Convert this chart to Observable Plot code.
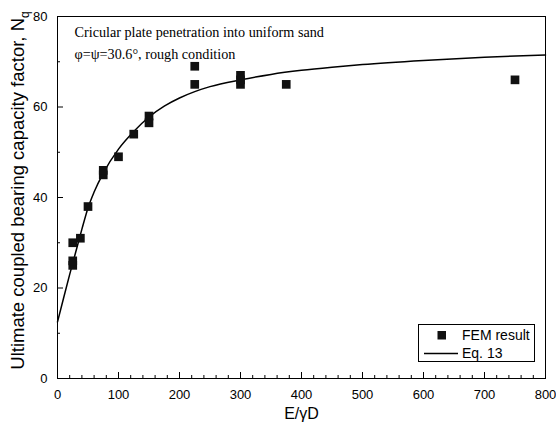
<!DOCTYPE html>
<html><head><meta charset="utf-8">
<script src="https://cdn.jsdelivr.net/npm/d3@7"></script>
<script src="https://cdn.jsdelivr.net/npm/@observablehq/plot@0.6"></script>
<style>
body{margin:0;background:#fff;}
#wrap{position:relative;width:556px;height:429px;font-family:"Liberation Sans",Arial,sans-serif;color:#000;}
#legend{position:absolute;left:418px;top:324px;width:115px;height:36px;border:1px solid #000;background:#fff;font-size:14px;}
#legend .row{position:absolute;left:0;width:115px;height:18px;}
#legend svg{position:absolute;left:0;top:0;}
#legend span{position:absolute;left:43px;top:0;line-height:18px;white-space:nowrap;}
</style></head><body><div id="wrap"></div>
<script>
// FEM result points
const femX = [25, 25, 25, 37.5, 50, 75, 75, 100, 125, 150, 150, 225, 225, 300, 300, 300, 375, 750];
const femY = [25, 26, 30, 31, 38, 45, 46, 49, 54, 56.5, 58, 65, 69, 65, 66, 67, 65, 66];
// Eq. 13 curve
const eqX = [0, 10, 20, 30, 40, 50, 60, 75, 100, 125, 150, 175, 200, 225, 250, 300, 350, 400, 450, 500, 600, 700, 800];
const eqY = [12.5, 17.8, 23, 28, 33, 37.7, 41.2, 45.4, 50.7, 54.6, 57.8, 60.2, 62, 63.4, 64.5, 66, 67.2, 68.1, 68.8, 69.4, 70.3, 71, 71.5];
// ticks
const xMajor = [0, 100, 200, 300, 400, 500, 600, 700, 800];
const xMinor = d3.range(0, 801, 20).filter(v => v % 100 !== 0);
const yMajor = [0, 20, 40, 60, 80];
const yMinor = [10, 30, 50, 70];
// texts
const xLabel = "E/γD";
const yLabel = "Ultimate coupled bearing capacity factor, N";
const ySub = "q";
const note1 = "Cricular plate penetration into uniform sand";
const note2 = "φ=ψ=30.6°, rough condition";
const legendLabels = ["FEM result", "Eq. 13"];

const fem = femX.map((x, i) => ({x, y: femY[i]}));
const eq = eqX.map((x, i) => ({x, y: eqY[i]}));

const W = 556, H = 429, mL = 57, mR = 11, mT = 16, mB = 51;
const innerW = W - mL - mR, innerH = H - mT - mB;
const serif = "'Liberation Serif', 'Times New Roman', serif";

const chart = Plot.plot({
  width: W, height: H,
  marginLeft: mL, marginRight: mR, marginTop: mT, marginBottom: mB,
  style: {fontFamily: "'Liberation Sans', Arial, sans-serif", fontSize: "13px", color: "#000", background: "#fff"},
  x: {domain: [0, 800]},
  y: {domain: [0, 80]},
  marks: [
    Plot.axisX({ticks: xMajor, tickSize: 0, tickPadding: 11, label: null, fontSize: 13}),
    Plot.axisY({ticks: yMajor, tickSize: 0, tickPadding: 10, label: null, fontSize: 13}),
    Plot.tickX(xMajor, {x: d => d, insetTop: innerH - 6, stroke: "#000"}),
    Plot.tickX(xMinor, {x: d => d, insetTop: innerH - 3, stroke: "#000"}),
    Plot.tickY(yMajor, {y: d => d, insetRight: innerW - 6, stroke: "#000"}),
    Plot.tickY(yMinor, {y: d => d, insetRight: innerW - 3, stroke: "#000"}),
    Plot.line(eq, {x: "x", y: "y", curve: "monotone-x", stroke: "#000", strokeWidth: 1.5}),
    Plot.dot(fem, {x: "x", y: "y", symbol: "square", r: 4.9, fill: "#111", stroke: "none"}),
    Plot.frame({stroke: "#000"}),
    Plot.text([note1], {frameAnchor: "top-left", dx: 17, dy: 16, textAnchor: "start", lineAnchor: "middle", fill: "#000", fontFamily: serif, fontSize: 14.2}),
    Plot.text([note2], {frameAnchor: "top-left", dx: 17, dy: 37.5, textAnchor: "start", lineAnchor: "middle", fill: "#000", fontFamily: serif, fontSize: 14.2}),
    Plot.text([xLabel], {frameAnchor: "bottom", dy: 35, textAnchor: "middle", lineAnchor: "middle", fill: "#000", fontSize: 16}),
    Plot.text([yLabel], {frameAnchor: "left", dx: -39, dy: -7, rotate: -90, textAnchor: "middle", lineAnchor: "middle", fill: "#000", fontSize: 18.5})
  ]
});

// subscript q on the y label
d3.select(chart).selectAll("text").each(function() {
  if (this.textContent === yLabel) {
    d3.select(this).append("tspan").attr("dy", "0.35em").attr("font-size", 12).text(ySub);
  }
});

const wrap = document.getElementById("wrap");
wrap.appendChild(chart);

const legend = document.createElement("div");
legend.id = "legend";
legend.innerHTML =
  `<div class="row" style="top:1px"><svg width="43" height="18"><rect x="18.5" y="5" width="8.5" height="8.5" fill="#111"/></svg><span>${legendLabels[0]}</span></div>` +
  `<div class="row" style="top:19px"><svg width="43" height="18"><line x1="5" x2="39" y1="9.5" y2="9.5" stroke="#000" stroke-width="1.5"/></svg><span>${legendLabels[1]}</span></div>`;
wrap.appendChild(legend);
</script></body></html>
